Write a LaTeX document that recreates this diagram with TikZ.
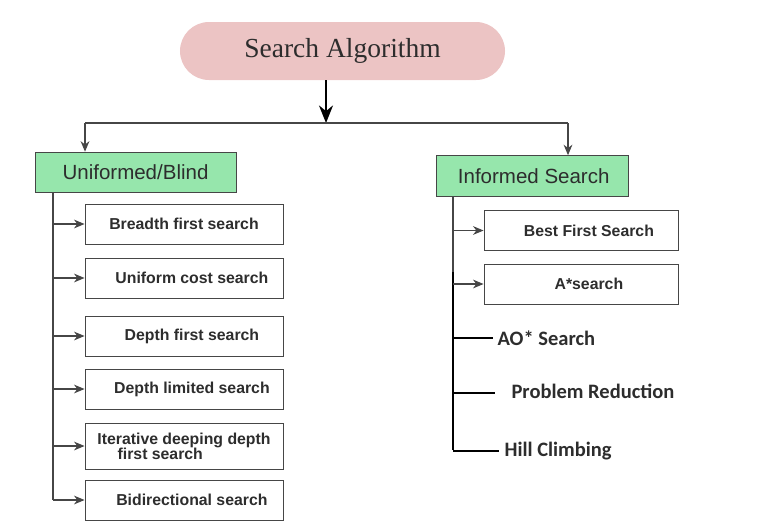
\documentclass[tikz,border=0pt]{standalone}
\usepackage{fontspec}
\setmainfont{Liberation Serif}
\newfontfamily\headfont{Liberation Sans}
\newfontfamily\leaffont{Liberation Sans}
\newfontfamily\sidefont{Carlito}
\usetikzlibrary{arrows.meta}

\definecolor{rootpink}{RGB}{236,196,196}
\definecolor{catgreen}{RGB}{150,230,172}
\definecolor{edgegray}{RGB}{70,70,70}
\definecolor{txtgray}{RGB}{45,45,45}

\tikzset{
	rootbox/.style={draw=none, fill=rootpink, rounded corners=0.87cm, minimum width=9.75cm, minimum height=1.74cm, font=\fontsize{23.5}{26}\selectfont, text=txtgray},
	catbox/.style={draw=edgegray, thick, fill=catgreen, minimum height=1.22cm, inner sep=0pt, font=\headfont\fontsize{17.5}{20}\selectfont, text=txtgray},
	leafbox/.style={draw=edgegray, thick, minimum width=5.94cm, minimum height=1.2cm, inner sep=0pt, align=center, font=\leaffont\bfseries\fontsize{13.5}{15}\selectfont, text=txtgray},
	sidelabel/.style={anchor=west, inner sep=2pt, font=\sidefont\bfseries\fontsize{17.5}{20}\selectfont, text=txtgray},
	thinarrow/.style={-{Stealth[length=9pt,width=7.5pt]}, edgegray, line width=0.9pt},
	trunk/.style={edgegray, line width=1.2pt},
	heavy/.style={black, line width=2.2pt},
}

\begin{document}
\begin{tikzpicture}[x=0.03cm, y=-0.03cm]
	\useasboundingbox (0,0) rectangle (767,528);
	% root and the bus below it
	\node[rootbox] (root) at (342.5,51) {Search Algorithm};
	\coordinate (bus) at (326,123);
	\coordinate (busl) at (85,123);
	\coordinate (busr) at (568,123);
	\draw[black, line width=1.6pt, -{Stealth[length=15pt,width=12pt]}] (root.south -| bus) -- (bus);
	\draw[edgegray, line width=1.8pt] (busl) -- (busr);
	% the two groups
	\node[catbox, minimum width=6.03cm] (blind) at (135.5,172.5) {Uniformed/Blind};
	\node[catbox, minimum width=5.76cm] (inform) at (532,176) {\,Informed Search};
	\draw[thinarrow] (busl) -- (busl |- blind.north);
	\draw[thinarrow] (busr) -- (busr |- inform.north);
	% uninformed leaves
	\node[leafbox] (bfs) at (184,224) {Breadth first search};
	\node[leafbox] (ucs) at (184,278) {\quad Uniform cost search};
	\node[leafbox] (dfs) at (184,336) {\quad Depth first search};
	\node[leafbox] (dls) at (184,389) {\quad Depth limited search};
	\node[leafbox, minimum height=1.38cm] (ids) at (184,446) {Iterative deeping depth\\[-2pt]first search\hspace*{3em}};
	\node[leafbox] (bds) at (184,500) {\quad Bidirectional search};
	\coordinate (ltop) at (53,193);
	\draw[trunk] (ltop) -- (ltop |- bds.west);
	\foreach \leaf in {bfs,ucs,dfs,dls,ids,bds}
		\draw[thinarrow] (\leaf.west -| ltop) -- (\leaf.west);
	% informed leaves
	\node[leafbox, minimum width=5.82cm] (best) at (581,230.5) {\quad Best First Search};
	\node[leafbox, minimum width=5.82cm] (astar) at (581,284) {\quad A*search};
	\coordinate (rtop) at (453,196);
	\coordinate (rmid) at (453,272);
	\coordinate (rbot) at (453,450);
	\draw[trunk] (rtop) -- (rmid);
	\draw[heavy] (rmid) -- (rbot);
	\draw[thinarrow] (best.west -| rtop) -- (best.west);
	\draw[thinarrow] (astar.west -| rtop) -- (astar.west);
	\node[sidelabel] (ao) at (495,338) {AO* Search};
	\node[sidelabel] (prob) at (509,391) {Problem Reduction};
	\node[sidelabel] (hill) at (502,451) {Hill Climbing};
	\coordinate (probend) at (495,393);
	\draw[heavy] (ao.west -| rtop) -- ([xshift=-0.06cm]ao.west);
	\draw[heavy] (probend -| rtop) -- (probend);
	\draw[heavy] (hill.west -| rtop) -- ([xshift=-0.09cm]hill.west);
\end{tikzpicture}
\end{document}
